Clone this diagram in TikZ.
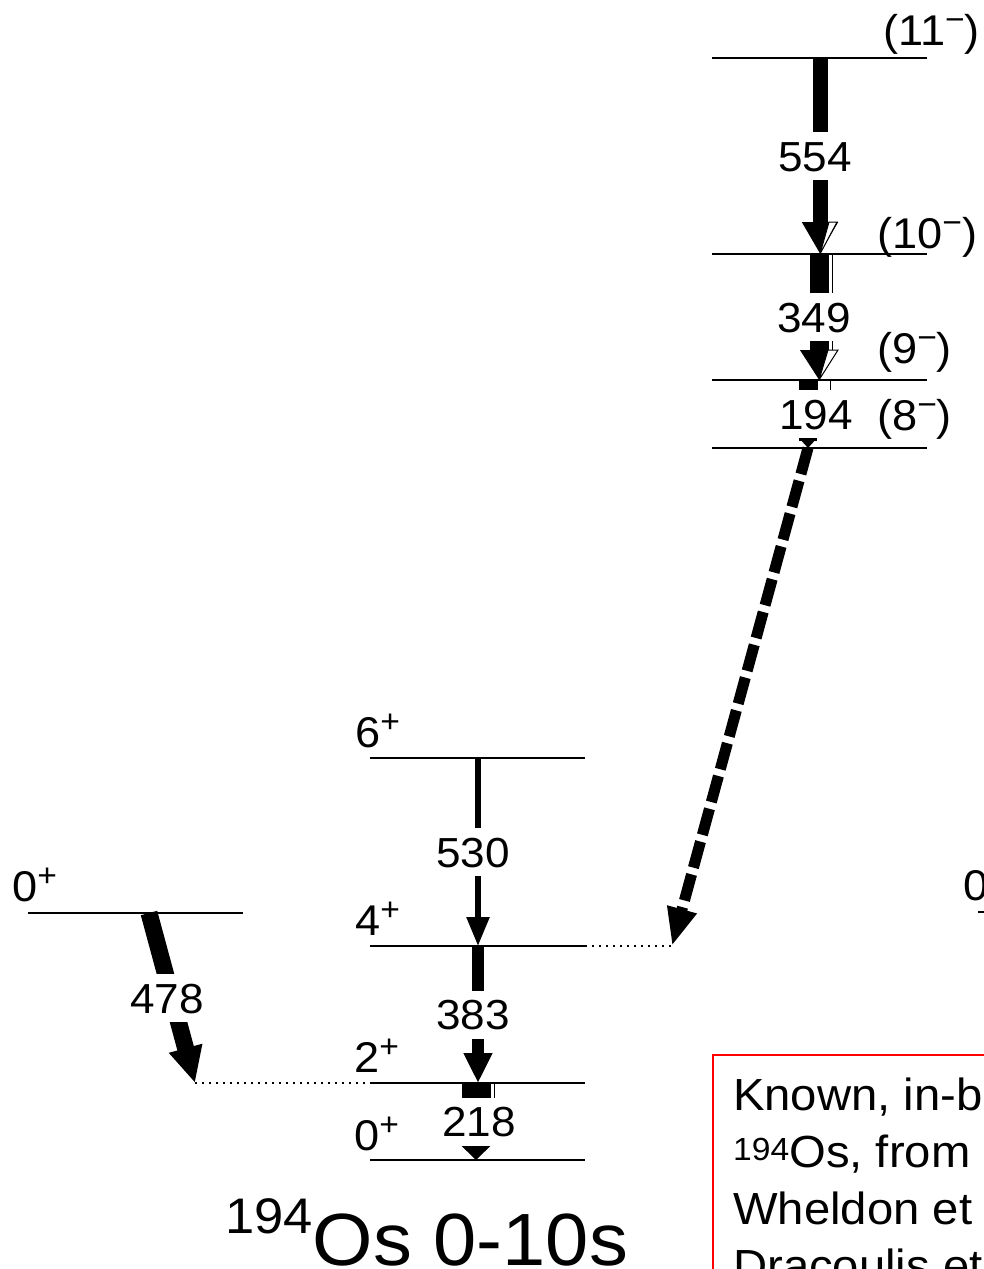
\documentclass[tikz,border=0pt]{standalone}
\usepackage{fontspec}
\setmainfont{Liberation Sans}[FakeStretch=1.05]
\usetikzlibrary{arrows.meta}
\newcommand\spinup[1]{\raisebox{15pt}{\fontsize{32}{32}\selectfont#1}}

\begin{document}
\begin{tikzpicture}[x=1pt,y=-1pt,
  level/.style={line width=2pt},
  spin/.style={anchor=base west,inner sep=0pt,font=\fontsize{43}{46}\selectfont},
  energy/.style={fill=white,inner xsep=2pt,inner ysep=9pt,text height=30pt,text depth=0pt,xshift=-5pt,font=\fontsize{42}{46}\selectfont},
  gam/.style={line width=#1},
  conv/.style={fill=white,draw=black,line width=1pt},
  link/.style={line width=1.5pt,dash pattern=on 2pt off 5pt}]
\path[use as bounding box] (0,0) rectangle (984,1269);
\clip (0,0) rectangle (984,1269);
\fill[white] (0,0) rectangle (984,1269);

% levels
\draw[level] (28,913) -- (243,913);
\draw[level] (370,758) -- (585,758);
\draw[level] (370,946) -- (585,946) coordinate (lev4e);
\draw[level] (370,1083) coordinate (lev2w) -- (585,1083);
\draw[level] (370,1160) -- (585,1160);
\draw[level] (712,58) -- (927,58);
\draw[level] (712,254) -- (927,254);
\draw[level] (712,380) -- (927,380);
\draw[level] (712,448) -- (927,448);
\draw[level] (978,912) -- (1010,912);

% spins
\node[spin] (s0b) at (12,901) {0\spinup{+}};
\node[spin] (s6) at (355,747) {6\spinup{+}};
\node[spin] (s4) at (355,935) {4\spinup{+}};
\node[spin] (s2) at (354,1072) {2\spinup{+}};
\node[spin] (s0) at (354,1150) {0\spinup{+}};
\node[spin] (s11) at (883,45) {(11\spinup{\textminus})};
\node[spin] (s10) at (877,248) {(10\spinup{\textminus})};
\node[spin] (s9) at (877,363) {(9\spinup{\textminus})};
\node[spin] (s8) at (877,430) {(8\spinup{\textminus})};
\node[spin] (s0r) at (963,900) {0\spinup{+}};

% transitions
\coordinate (t554a) at (820,58);
\coordinate (t554b) at (820,254);
\coordinate (t349a) at (819,254);
\coordinate (t349b) at (819,380);
\coordinate (t194a) at (808,380);
\coordinate (t194b) at (808,448);
\coordinate (t530a) at (478,758);
\coordinate (t530b) at (478,946);
\coordinate (t383a) at (478,946);
\coordinate (t383b) at (478,1083);
\coordinate (t218a) at (476,1083);
\coordinate (t218b) at (476,1160);
\coordinate (t478a) at (149,913);
\coordinate (t478b) at (195,1083);
\coordinate (d8a) at (808,448);
\coordinate (d8b) at (672,946);

\draw[gam=15pt,-{Triangle[width=34pt,length=32pt]}] (t554a) -- node[energy] {554} (t554b);
\draw[conv] (829,222) -- (837,222) -- (t554b) -- cycle;

\draw[conv] (828.5,254) rectangle (832,350);
\draw[gam=19pt,-{Triangle[width=36pt,length=30pt]}] (t349a) -- node[energy] {349} (t349b);
\draw[conv] (828,350) -- (838,350) -- (t349b) -- cycle;

\draw[conv] (817,380) rectangle (830,398);
\draw[gam=18pt,-{Triangle[width=14pt,length=8pt]}] (t194a) -- node[energy,xshift=13pt] {194} (t194b);

\draw[gam=5.5pt,-{Triangle[width=22pt,length=29pt]}] (t530a) -- node[energy] {530} (t530b);
\draw[gam=12pt,-{Triangle[width=27pt,length=30pt]}] (t383a) -- node[energy] {383} (t383b);

\draw[conv] (490,1083) rectangle (494,1100);
\draw[gam=28pt,-{Triangle[width=30pt,length=15pt]}] (t218a) -- node[energy,xshift=8pt] {218} (t218b);

\draw[gam=17pt,-{Triangle[width=32pt,length=36pt]}] (t478a) -- node[energy] {478} (t478b);

\draw[line width=11pt,dash pattern=on 27pt off 7pt,-{Triangle[width=28pt,length=38pt]}] (d8a) -- (d8b);

% feeding links
\draw[link] (t478b) -- (lev2w);
\draw[link] (lev4e) -- (d8b);

% title and note
\node[anchor=base west,inner sep=0pt,font=\fontsize{74}{80}\selectfont] (title) at (225,1265)
  {\raisebox{32pt}{\fontsize{50}{50}\selectfont 194}Os 0-10s};
\draw[red,line width=2pt] (713,1055) rectangle (1100,1400);
\node[anchor=north west,align=left,inner sep=0pt,font=\fontsize{45}{57}\selectfont] (note) at (733,1078)
  {Known, in-beam\\ \raisebox{7pt}{\fontsize{32}{32}\selectfont 194}Os, from\\ Wheldon et al.\\ Dracoulis et al.};
\end{tikzpicture}
\end{document}
